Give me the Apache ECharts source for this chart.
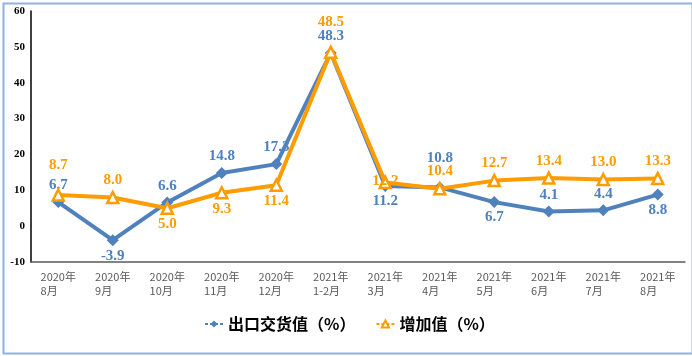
<!DOCTYPE html>
<html>
<head>
<meta charset="utf-8">
<script src="https://cdn.jsdelivr.net/npm/echarts@6/dist/echarts.min.js"></script>
<style>
html,body{margin:0;padding:0;background:#fff;}
#c{width:692px;height:356px;}
</style>
</head>
<body>
<div id="c"></div>
<script>
// ---- data ----
const categories = ['2020年\n8月','2020年\n9月','2020年\n10月','2020年\n11月','2020年\n12月','2021年\n1-2月','2021年\n3月','2021年\n4月','2021年\n5月','2021年\n6月','2021年\n7月','2021年\n8月'];
const exportValues = [6.7, -3.9, 6.6, 14.8, 17.3, 48.3, 11.2, 10.8, 6.7, 4.1, 4.4, 8.8];
const addedValues  = [8.7, 8.0, 5.0, 9.3, 11.4, 48.5, 12.2, 10.4, 12.7, 13.4, 13.0, 13.3];
const seriesNames = ['出口交货值（%）', '增加值（%）'];
const yTicks = { min: -10, max: 60, interval: 10 };

// label placement (style only): t = above, b = below, T = far above, c = on point
const exportLabelPos = ['t','b','t','t','t','t','b','T','b','t','t','b'];
const addedLabelPos  = ['T','t','b','b','b','T','c','t','t','t','t','t'];

const BLUE = '#4f81bd';
const ORANGE = '#ff9c00';

function labelCfg(p, color) {
  const base = {
    show: true, color: color, fontFamily: 'Liberation Serif', fontWeight: 'bold', fontSize: 15,
    formatter: function (prm) { return Number(prm.value).toFixed(1); }
  };
  if (p === 't') return Object.assign(base, { position: 'top', distance: 3 });
  if (p === 'T') return Object.assign(base, { position: 'top', distance: 16 });
  if (p === 'b') return Object.assign(base, { position: 'bottom', distance: 2 });
  return Object.assign(base, { position: 'inside', offset: [0, -1] });
}
function build(values, pos, color) {
  return values.map((v, i) => ({ value: v, label: labelCfg(pos[i], color) }));
}

const chart = echarts.init(document.getElementById('c'), null, { renderer: 'canvas' });
chart.setOption({
  backgroundColor: '#ffffff',
  animation: false,
  graphic: [{
    type: 'rect', left: 1, top: 1, silent: true, z: 100,
    shape: { x: 0, y: 0, width: 689, height: 350 },
    style: { fill: 'none', stroke: '#8db3e2', lineWidth: 2 }
  }],
  grid: { left: 31, right: 7, top: 11, bottom: 94 },
  legend: {
    left: 199, top: 311,
    itemWidth: 18, itemHeight: 9, itemGap: 20,
    textStyle: { fontFamily: 'Noto Sans CJK SC', fontWeight: 'bold', fontSize: 16, color: '#000' },
    lineStyle: { type: [3, 2], width: 2 },
    data: seriesNames
  },
  xAxis: {
    type: 'category',
    data: categories,
    boundaryGap: true,
    axisLine: { onZero: false, lineStyle: { color: '#595959', width: 1.5 } },
    axisTick: { show: false },
    axisLabel: {
      interval: 0, margin: 8,
      formatter: function (v) {
        const parts = v.split('\n');
        return '{a|' + parts[0] + '}\n{a|' + parts[1] + '}';
      },
      rich: { a: { align: 'left', fontFamily: 'Noto Sans CJK SC', fontSize: 11, lineHeight: 14, color: '#595959' } }
    },
    splitLine: { show: false }
  },
  yAxis: {
    type: 'value',
    min: yTicks.min, max: yTicks.max, interval: yTicks.interval,
    axisLine: { show: true, lineStyle: { color: '#000', width: 1.5 } },
    axisTick: { show: false },
    splitLine: { show: false },
    axisLabel: { margin: 6, fontFamily: 'Liberation Serif', fontWeight: 'bold', fontSize: 11, color: '#000' }
  },
  series: [
    {
      name: seriesNames[0], type: 'line',
      data: build(exportValues, exportLabelPos, BLUE),
      symbol: 'diamond', symbolSize: 12,
      itemStyle: { color: BLUE },
      lineStyle: { color: BLUE, width: 4 },
      z: 2
    },
    {
      name: seriesNames[1], type: 'line',
      data: build(addedValues, addedLabelPos, ORANGE),
      symbol: 'triangle', symbolSize: 11,
      itemStyle: { color: '#fff', borderColor: ORANGE, borderWidth: 2.5 },
      lineStyle: { color: ORANGE, width: 4 },
      z: 3
    }
  ]
});
</script>
</body>
</html>
